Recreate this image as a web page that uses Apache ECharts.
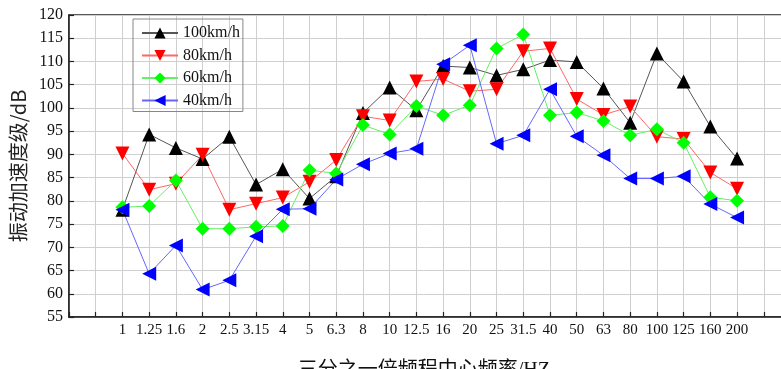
<!DOCTYPE html>
<html>
<head>
<meta charset="utf-8">
<script src="https://cdn.jsdelivr.net/npm/echarts@6/dist/echarts.min.js"></script>
<style>html,body{margin:0;padding:0;background:#fff}#c{width:781px;height:369px}</style>
</head>
<body>
<div id="c"></div>
<script>
var freqLabels = ['1','1.25','1.6','2','2.5','3.15','4','5','6.3','8','10','12.5','16','20','25','31.5','40','50','63','80','100','125','160','200'];
var yTicks = [55,60,65,70,75,80,85,90,95,100,105,110,115,120];
var v100 = [78.1,94.3,91.4,89.0,93.8,83.5,86.8,80.5,85.3,98.9,104.4,99.5,109.0,108.7,107.0,108.3,110.3,109.9,104.2,96.8,111.7,105.7,96.0,89.1];
var v80  = [90.2,82.4,83.7,89.9,78.1,79.4,80.7,84.1,88.8,98.2,97.3,105.7,106.2,103.6,104.0,112.2,112.8,101.9,98.5,100.3,93.8,93.3,86.1,82.6];
var v60  = [78.6,78.9,84.4,74.0,74.0,74.4,74.6,86.6,85.9,96.3,94.3,100.4,98.4,100.6,112.8,115.8,98.4,99.0,97.2,94.1,95.4,92.5,80.8,80.0];
var v40  = [78.1,64.3,70.4,60.9,62.9,72.4,78.2,78.3,84.6,87.9,90.2,91.2,109.4,113.5,92.3,94.1,104.0,93.9,89.8,84.8,84.8,85.3,79.3,76.4];
var seriesNames = ['100km/h','80km/h','60km/h','40km/h'];

var OFFSET = 2; // first labelled tick sits at position 2 of the axis
function pts(arr){ return arr.map(function(v,i){ return [i+OFFSET, v]; }); }

var serif = "'Liberation Serif','Noto Sans CJK SC',serif";
var chart = echarts.init(document.getElementById('c'));
function mk(name, data, color, lineColor, symbol, rot, size){
  return {
    name: name, type: 'line', data: pts(data),
    symbol: symbol, symbolRotate: rot, symbolSize: size,
    itemStyle: {color: color},
    lineStyle: {color: lineColor, width: 1},
    emphasis: {disabled: true},
    animation: false
  };
}
chart.setOption({
  animation: false,
  grid: {left: 69, top: 15, bottom: 52, right: -9.5, outerBoundsMode: 'none', containLabel: false,
         show: true, borderColor: '#222', borderWidth: 1.5},
  legend: {
    orient: 'vertical', left: 133, top: 19,
    padding: [6, 3, 3, 8], itemGap: 6.5, itemWidth: 36, itemHeight: 14,
    borderColor: '#888', borderWidth: 1,
    textStyle: {fontFamily: serif, fontSize: 16, color: '#111'},
    data: seriesNames
  },
  xAxis: {
    type: 'value', min: 0, max: 27, interval: 1,
    axisLine: {lineStyle: {color: '#222', width: 1.5}},
    axisTick: {inside: true, length: 5, lineStyle: {color: '#222', width: 1.2}},
    splitLine: {show: true, lineStyle: {color: '#cfcfcf', width: 1}},
    axisLabel: {
      fontFamily: serif, fontSize: 15, color: '#111', margin: 6,
      formatter: function(v){ var l = freqLabels[v-OFFSET]; return l === undefined ? '' : l; }
    },
    name: '三分之一倍频程中心频率/HZ', nameLocation: 'middle', nameGap: 44,
    nameTextStyle: {fontFamily: serif, fontSize: 20, color: '#111', padding: [0, 12, 0, 0]}
  },
  yAxis: {
    type: 'value', min: yTicks[0], max: yTicks[yTicks.length-1], interval: 5,
    axisLine: {show: true, lineStyle: {color: '#222', width: 1.5}},
    axisTick: {show: true, inside: true, length: 5, lineStyle: {color: '#222', width: 1.2}},
    splitLine: {show: true, lineStyle: {color: '#cfcfcf', width: 1}},
    axisLabel: {fontFamily: serif, fontSize: 16, color: '#111', margin: 6},
    name: '振动加速度级/dB', nameLocation: 'middle', nameGap: 40,
    nameTextStyle: {fontFamily: "'Noto Sans CJK SC','DejaVu Sans',sans-serif", fontSize: 20, color: '#222'}
  },
  series: [
    mk(seriesNames[0], v100, '#000000', '#555555', 'triangle', 0, 14),
    mk(seriesNames[1], v80, '#ff0000', '#ff6666', 'triangle', 180, 14),
    mk(seriesNames[2], v60, '#00ff00', '#66ee66', 'diamond', 0, 14),
    mk(seriesNames[3], v40, '#0000ff', '#6666ff', 'triangle', 90, 14)
  ]
});
</script>
</body>
</html>
